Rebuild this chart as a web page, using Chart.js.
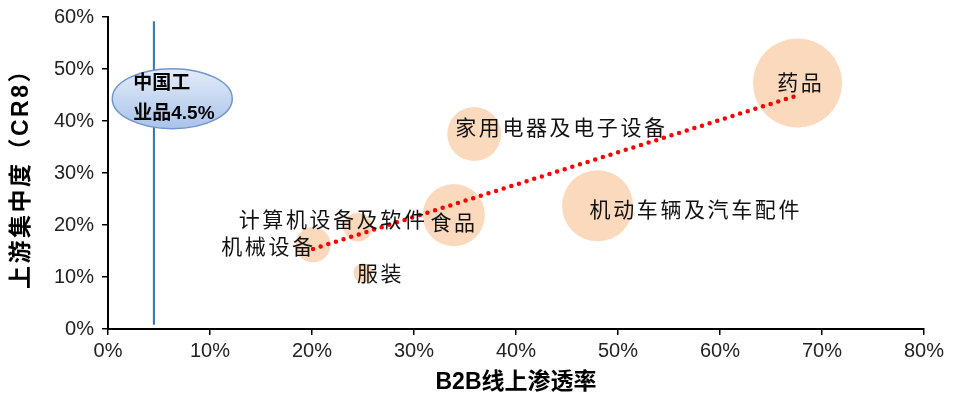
<!DOCTYPE html>
<html>
<head>
<meta charset="utf-8">
<script src="https://cdn.jsdelivr.net/npm/chart.js@4/dist/chart.umd.min.js"></script>
<style>
  html, body { margin: 0; padding: 0; background: #fff; }
  #wrap { width: 959px; height: 398px; }
</style>
</head>
<body>
<div id="wrap"><canvas id="c"></canvas></div>
<script>
// 行业：B2B线上渗透率（%）、上游集中度 CR8（%）、气泡大小（相对市场规模）
const industries = ['药品', '家用电器及电子设备', '食品', '机动车辆及汽车配件', '计算机设备及软件', '机械设备', '服装'];
const b2bPenetration = [67.6, 35.9, 33.9, 48.0, 24.5, 20.1, 25.0];
const upstreamCR8 = [47.3, 37.5, 21.9, 23.7, 19.6, 16.2, 10.8];
const marketSize = [100, 37, 49, 64, 11, 16, 5];

// 趋势线两端
const trendX = [20.1, 67.4];
const trendY = [15.4, 44.8];

// 中国工业品上游集中度参考线
const industrialLabel = ['中国工', '业品4.5%'];
const industrialValue = 4.5;

// 坐标轴刻度
const xTicks = [0, 10, 20, 30, 40, 50, 60, 70, 80];
const yTicks = [0, 10, 20, 30, 40, 50, 60];

// 标签相对气泡中心的偏移（像素）与对齐方式
const labelPlacement = [
  { dx: 2,   dy: -1, align: 'center' },
  { dx: -19, dy: -7, align: 'left' },
  { dx: -1,  dy: 7,  align: 'center' },
  { dx: -8,  dy: 3,  align: 'left' },
  { dx: 67,  dy: -8, align: 'right' },
  { dx: 0,   dy: 1,  align: 'right' },
  { dx: -6,  dy: 0,  align: 'left' }
];

const bubbleData = industries.map((name, i) => ({
  x: b2bPenetration[i],
  y: upstreamCR8[i],
  r: 4.5 * Math.sqrt(marketSize[i])
}));

const CJK = '"Noto Sans CJK SC", sans-serif';
const LATIN = '"Liberation Sans", Arial, "Noto Sans CJK SC", sans-serif';

// 逐字绘制中文标签，保持较宽的字距
function drawSpaced(ctx, text, x, y, align, step, size) {
  const chars = Array.from(text);
  const total = (chars.length - 1) * step + size;
  let start = x;
  if (align === 'center') start = x - total / 2;
  else if (align === 'right') start = x - total;
  ctx.textAlign = 'left';
  chars.forEach((ch, k) => ctx.fillText(ch, start + k * step, y));
}

const overlay = {
  id: 'overlay',
  afterDatasetsDraw(chart) {
    const { ctx, scales: { x, y } } = chart;
    ctx.save();

    // 气泡标签
    ctx.fillStyle = '#111';
    ctx.font = '21px ' + CJK;
    ctx.textBaseline = 'middle';
    industries.forEach((name, i) => {
      const p = labelPlacement[i];
      const px = x.getPixelForValue(b2bPenetration[i]) + p.dx;
      const py = y.getPixelForValue(upstreamCR8[i]) + p.dy;
      drawSpaced(ctx, name, px, py, p.align, 23.6, 21);
    });

    // 中国工业品标注椭圆
    const cx = x.getPixelForValue(6.3);
    const cy = y.getPixelForValue(44.3);
    const rx = 60, ry = 30;
    const g = ctx.createLinearGradient(0, cy - ry, 0, cy + ry);
    g.addColorStop(0, '#e3ecf9');
    g.addColorStop(0.5, '#c6d8f2');
    g.addColorStop(1, '#a9c3ea');
    ctx.beginPath();
    ctx.ellipse(cx, cy, rx, ry, 0, 0, Math.PI * 2);
    ctx.fillStyle = g;
    ctx.fill();
    ctx.lineWidth = 1.5;
    ctx.strokeStyle = '#7096cb';
    ctx.stroke();

    ctx.fillStyle = '#000';
    ctx.font = 'bold 19px ' + LATIN;
    ctx.textAlign = 'left';
    ctx.textBaseline = 'middle';
    ctx.fillText(industrialLabel[0], cx - 39, cy - 15);
    ctx.fillText(industrialLabel[1], cx - 39, cy + 15);

    // 坐标轴标题
    ctx.font = 'bold 23px ' + LATIN;
    ctx.textAlign = 'center';
    ctx.fillText('B2B线上渗透率', (x.left + x.right) / 2, 383);
    ctx.translate(22, 174);
    ctx.rotate(-Math.PI / 2);
    ctx.letterSpacing = '2.5px';
    ctx.fillText('上游集中度（CR8）', 1, 0);
    ctx.restore();
  }
};

new Chart(document.getElementById('c'), {
  type: 'bubble',
  data: {
    datasets: [
      {
        type: 'line',
        label: '中国工业品',
        data: [{ x: industrialValue, y: 0.8 }, { x: industrialValue, y: 59.2 }],
        borderColor: '#2e75b6',
        borderWidth: 2,
        pointRadius: 0,
        order: 2
      },
      {
        type: 'line',
        label: '趋势线',
        data: trendX.map((v, i) => ({ x: v, y: trendY[i] })),
        borderColor: '#ff0000',
        borderWidth: 4.5,
        borderDash: [0, 8],
        borderCapStyle: 'round',
        pointRadius: 0,
        order: 1
      },
      {
        label: '行业',
        data: bubbleData,
        backgroundColor: 'rgba(250, 214, 183, 0.92)',
        borderColor: 'rgba(255,255,255,0.9)',
        borderWidth: 1,
        hoverRadius: 0,
        clip: false,
        order: 3
      }
    ]
  },
  options: {
    responsive: true,
    maintainAspectRatio: false,
    animation: false,
    layout: { autoPadding: false, padding: { top: 17, right: 35, left: 0, bottom: 0 } },
    plugins: { legend: { display: false }, tooltip: { enabled: false } },
    scales: {
      x: {
        type: 'linear',
        min: 0, max: 80,
        afterBuildTicks: s => { s.ticks = xTicks.map(v => ({ value: v })); },
        afterFit: s => { s.height = 69; s.paddingLeft = 0; s.paddingRight = 0; },
        ticks: {
          callback: v => v + '%',
          color: '#222',
          font: { family: LATIN, size: 20 },
          padding: 4,
          maxRotation: 0
        },
        grid: { drawOnChartArea: false, drawTicks: true, tickLength: 6, color: '#000', lineWidth: 1.5 },
        border: { color: '#000', width: 2 }
      },
      y: {
        type: 'linear',
        min: 0, max: 60,
        afterBuildTicks: s => { s.ticks = yTicks.map(v => ({ value: v })); },
        afterFit: s => { s.width = 108; s.paddingTop = 0; s.paddingBottom = 0; },
        ticks: {
          callback: v => v + '%',
          color: '#222',
          font: { family: LATIN, size: 20 },
          padding: 8
        },
        grid: { drawOnChartArea: false, drawTicks: true, tickLength: 6, color: '#000', lineWidth: 1.5 },
        border: { color: '#000', width: 2 }
      }
    }
  },
  plugins: [overlay]
});
</script>
</body>
</html>
